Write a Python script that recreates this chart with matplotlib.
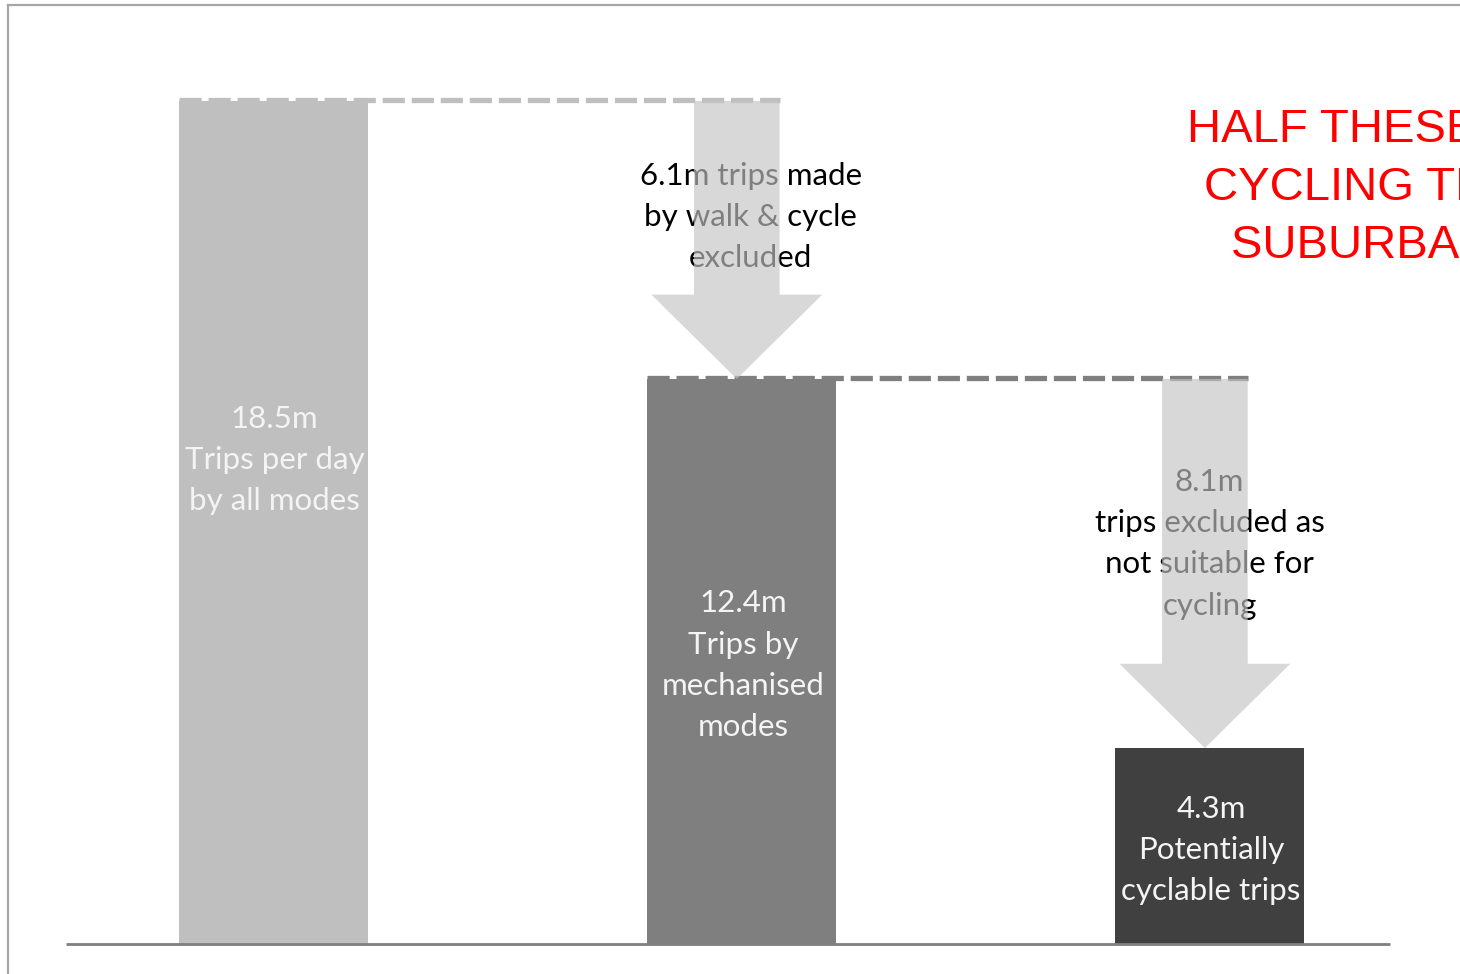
import matplotlib.pyplot as plt
from matplotlib.patches import FancyArrow
from matplotlib.lines import Line2D

# trips per day (millions) at each stage of the sieve
totals = [18.5, 12.4, 4.3]
drops = [6.1, 8.1]
bar_labels = ["18.5m\nTrips per day\nby all modes",
              "12.4m\nTrips by\nmechanised\nmodes",
              "4.3m\nPotentially\ncyclable trips"]
drop_labels = ["6.1m trips made\nby walk & cycle\nexcluded",
               "8.1m\ntrips excluded as\nnot suitable for\ncycling"]
bar_colors = ["#bfbfbf", "#7f7f7f", "#404040"]
note_lines = ["HALF THESE ARE", "CYCLING TRIPS IN", "SUBURBAN AREAS"]

fig = plt.figure(figsize=(14.6, 9.74), dpi=100)
ax = fig.add_axes([0, 0, 1, 1])
ax.set_xlim(-0.584, 2.535)
ax.set_ylim(-0.658, 20.715)
ax.axis("off")

bw = 0.404
xs = list(range(len(totals)))
ax.bar(xs, totals, width=bw, color=bar_colors, zorder=2)

# baseline
ax.plot([-0.443, 2.386], [0, 0], color="#7f7f7f", lw=2, zorder=3,
        solid_capstyle="butt")

lab_kw = dict(ha="center", va="center", fontsize=22.5, family="Lato",
              linespacing=1.57, zorder=4)
label_y = [10.62, 6.12, 2.06]
for x, y, s in zip(xs, label_y, bar_labels):
    ax.text(x + 0.003, y, s, color="#f4f4f4", **lab_kw)

# dashed guide lines + down arrows for each excluded group
drop_text_pos = [(1.02, 15.95), (2.0, 8.78)]
for i, d in enumerate(drops):
    top = totals[i]
    ax_c = i + 1 - 0.01
    ax.plot([i - bw / 2, ax_c + 0.0925], [top + 0.03, top + 0.03],
            color=bar_colors[i], lw=3.8, dashes=(4.2, 1.3),
            solid_capstyle="butt", dash_capstyle="butt", zorder=3)
    tx, ty = drop_text_pos[i]
    ax.text(tx, ty, drop_labels[i], color="black", **lab_kw)
    arr = FancyArrow(ax_c, top, 0, -d, width=0.183, head_width=0.365,
                     head_length=1.85, length_includes_head=True,
                     color="#c4c4c4", alpha=0.65, lw=0, zorder=5)
    ax.add_patch(arr)

note_x = [1187, 1204, 1231]
note_y = [130, 188, 246]
for s, px, py in zip(note_lines, note_x, note_y):
    fig.text(px / 1460, 1 - py / 974, s, ha="left", va="center",
             color="#ff0000", fontsize=34, family="Liberation Sans")

# page frame (top and left edges)
fig.add_artist(Line2D([8 / 1460, 1], [1 - 5 / 974, 1 - 5 / 974],
                      transform=fig.transFigure, color="#a6a6a6", lw=1.6))
fig.add_artist(Line2D([8 / 1460, 8 / 1460], [0, 1 - 5 / 974],
                      transform=fig.transFigure, color="#a6a6a6", lw=1.6))

fig.savefig("out.png", dpi=100)
